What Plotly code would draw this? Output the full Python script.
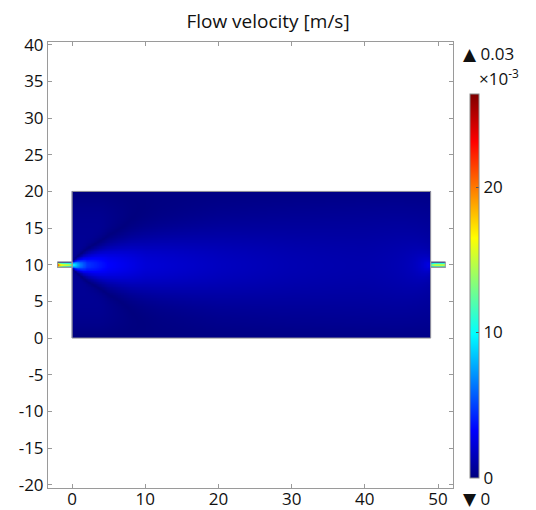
import numpy as np
import plotly.graph_objects as go

# ---- geometry (m) ----
chamber_x = [0.0, 49.0]
chamber_y = [0.0, 20.0]
inlet_x = [-2.0, 0.0]
outlet_x = [49.0, 51.0]
pipe_y = [9.62, 10.38]

# ---- velocity readings (m/s) ----
# jet centreline speed and jet half-width along the chamber
jet_x = [0, 1, 2, 5, 10, 20, 30, 40, 49]
jet_speed = [0.0105, 0.0066, 0.0046, 0.0032, 0.0022, 0.0016, 0.0012, 0.0009, 0.0008]
width_x = [0, 1, 2, 5, 10, 20, 30, 49]
jet_width = [0.35, 0.9, 1.5, 2.8, 4.0, 5.0, 5.5, 6.0]
# side flow outside the jet (positive = back towards the inlet)
side_x = [0, 4, 8, 12, 20, 30, 49]
side_speed = [0.0006, 0.0006, 0.0002, 0.0, -0.0002, -0.0003, -0.0004]
# outlet sink strength (flow rate per unit depth, m^2/s)
outlet_q = 0.0077
# pipe centreline speeds
inlet_px = [-2.0, -1.8, -1.4, -0.6, 0.0]
inlet_speed = [0.023, 0.019, 0.0165, 0.0155, 0.014]
outlet_px = [49.0, 49.5, 51.0]
outlet_speed = [0.013, 0.0155, 0.0155]

c_max = 0.02645

x_ticks = [0, 10, 20, 30, 40, 50]
y_ticks = list(range(-20, 41, 5))
cbar_ticks = [0, 0.01, 0.02]
cbar_labels = ["0", "10", "20"]

# ---- chamber field ----
cx = np.arange(chamber_x[0], chamber_x[1] + 1e-9, 0.1)
cy = np.arange(chamber_y[0], chamber_y[1] + 1e-9, 0.1)
X, Y = np.meshgrid(cx, cy)
J = np.interp(X, jet_x, jet_speed)
W = np.interp(X, width_x, jet_width)
R = np.interp(X, side_x, side_speed)
core = np.exp(-((Y - 10.0) / W) ** 2)
wall = 1.0 - ((Y - 10.0) / 10.0) ** 4
u = J * core - R * wall * (1.0 - core)
dx_o = X - chamber_x[1]
dy_o = Y - 10.0
r = np.sqrt(dx_o ** 2 + dy_o ** 2) + 0.35
s = outlet_q / (np.pi * r)
u = u + s * (-dx_o) / r
v = s * (-dy_o) / r
speed = np.clip(np.sqrt(u ** 2 + v ** 2), 0, c_max)

# ---- pipe fields (parabolic profile) ----
def pipe_field(x0, x1, px_, pv):
    xx = np.arange(x0, x1 + 1e-9, 0.05)
    yy = np.linspace(pipe_y[0], pipe_y[1], 15)
    PX, PY = np.meshgrid(xx, yy)
    half = (pipe_y[1] - pipe_y[0]) / 2
    prof = 1.0 - ((PY - 10.0) / half) ** 2
    return xx, yy, np.interp(PX, px_, pv) * np.clip(prof, 0, 1)

ix, iy, iz = pipe_field(inlet_x[0], inlet_x[1], inlet_px, inlet_speed)
ox, oy, oz = pipe_field(outlet_x[0], outlet_x[1], outlet_px, outlet_speed)

jet = [[0.0, "#00007F"], [0.125, "#0000FF"], [0.375, "#00FFFF"],
       [0.625, "#FFFF00"], [0.875, "#FF0000"], [1.0, "#7F0000"]]

fig = go.Figure()
for xx, yy, zz in [(cx, cy, speed), (ix, iy, iz), (ox, oy, oz)]:
    fig.add_trace(go.Heatmap(x=xx, y=yy, z=zz, coloraxis="coloraxis",
                             zsmooth="best", hoverinfo="skip"))

edge = "#9a9a9a"
for x0, x1, y0, y1 in [(chamber_x[0], chamber_x[1], chamber_y[0], chamber_y[1]),
                       (inlet_x[0], inlet_x[1], pipe_y[0], pipe_y[1]),
                       (outlet_x[0], outlet_x[1], pipe_y[0], pipe_y[1])]:
    fig.add_shape(type="rect", x0=x0, x1=x1, y0=y0, y1=y1,
                  line=dict(color=edge, width=1), layer="above")

# plot area in pixels
L, T, Rr, B = 48.3, 42.3, 453.0, 488.0
W_px, H_px = 536, 510

def px(xp):
    return (xp - L) / (Rr - L)

def py(yp):
    return (B - yp) / (B - T)

family = "Open Sans, DejaVu Sans, sans-serif"
font = dict(family=family, size=17, color="#111111")

fig.update_layout(
    template="none",
    width=W_px, height=H_px, autosize=False,
    margin=dict(l=L, r=W_px - Rr, t=T, b=H_px - B, pad=0),
    paper_bgcolor="white", plot_bgcolor="white",
    font=font,
    title=dict(text="Flow velocity [m/s]", x=0.5, xanchor="center", xref="container",
               y=1 - 21 / H_px, yanchor="middle", yref="container",
               font=dict(family=family, size=19, color="#111111")),
    coloraxis=dict(
        colorscale=jet, cmin=0, cmax=c_max,
        colorbar=dict(
            thickness=9, thicknessmode="pixels",
            lenmode="pixels", len=477.7 - 93.3,
            x=px(470), xanchor="left", xpad=0,
            y=py(477.7), yanchor="bottom", ypad=0,
            outlinewidth=1, outlinecolor="#8a8a8a",
            tickvals=cbar_ticks, ticktext=cbar_labels,
            ticks="inside", ticklen=3, tickcolor="#555555",
            tickfont=font,
        ),
    ),
    xaxis=dict(range=[-3.3, 52.05], tickvals=x_ticks,
               ticktext=[str(t) for t in x_ticks], automargin=False,
               ticklabelstandoff=-4,
               showgrid=False, zeroline=False, showline=True, linecolor=edge,
               mirror="allticks", ticks="inside", ticklen=4, tickcolor=edge,
               tickfont=font),
    yaxis=dict(range=[-20.45, 40.38], tickvals=y_ticks,
               ticktext=[str(t) for t in y_ticks], automargin=False,
               showgrid=False, zeroline=False, showline=True, linecolor=edge,
               mirror="allticks", ticks="inside", ticklen=4, tickcolor=edge,
               tickfont=font),
    annotations=[
        dict(text="\u25B2 0.03", x=px(461), y=py(54), xref="paper", yref="paper",
             xanchor="left", yanchor="middle", showarrow=False, font=font),
        dict(text="\u00D710<sup>-3</sup>", x=px(477), y=py(78), xref="paper", yref="paper",
             xanchor="left", yanchor="middle", showarrow=False, font=font),
        dict(text="\u25BC 0", x=px(461), y=py(498), xref="paper", yref="paper",
             xanchor="left", yanchor="middle", showarrow=False, font=font),
    ],
)

fig.write_html("out.html")
